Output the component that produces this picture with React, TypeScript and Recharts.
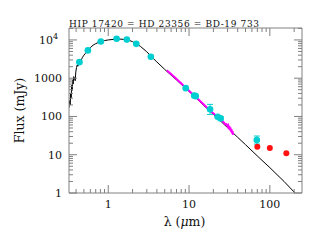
import React from 'react';
import { ComposedChart, Line, Scatter, XAxis, YAxis, ErrorBar, Label } from 'recharts';

// ---- data ----
const titleText = 'HIP 17420 = HD 23356 = BD-19 733';

const modelWavelength = [0.327, 0.333, 0.338, 0.343, 0.348, 0.353, 0.358, 0.363, 0.368, 0.374, 0.382, 0.39, 0.397, 0.405, 0.413, 0.42, 0.428, 0.436, 0.445, 0.46, 0.48, 0.5, 0.52, 0.55, 0.6, 0.65, 0.7, 0.8, 0.9, 1.0, 1.2, 1.4, 1.6, 1.8, 2.0, 2.2, 2.5, 3.0, 3.5, 4.0, 4.5, 5.0, 6.0, 7.0, 8.0, 9.0, 10, 12, 15, 20, 25, 30, 40, 50, 70, 100, 150, 205];
const modelFlux = [170, 260, 200, 400, 310, 650, 480, 900, 700, 1100, 1000, 860, 1450, 1900, 2200, 2050, 2150, 2300, 2500, 2900, 3500, 4000, 4400, 5000, 6300, 7300, 8000, 9000, 9600, 10000, 10400, 10500, 10300, 9800, 9000, 8000, 6800, 4900, 3500, 2650, 2100, 1700, 1200, 900, 690, 550, 450, 315, 200, 113, 73, 51, 28.5, 18.3, 9.3, 4.6, 2.0, 1.0];

const irsWavelength = [5.3, 5.6, 6.0, 6.5, 7.0, 7.5, 8.0, 8.5, 9.0, 9.5, 10, 11, 12, 13, 14, 15, 16, 17, 18, 19, 20, 21, 22, 23, 24, 25, 25.5, 26, 27, 28, 29, 30, 30.5, 31, 31.5, 32, 32.5, 33, 33.5, 34, 34.5, 35];
const irsFlux = [1600, 1460, 1290, 1100, 960, 830, 740, 650, 580, 520, 470, 385, 330, 280, 243, 212, 186, 165, 147, 132, 121, 111, 102, 94, 87, 80, 86, 74, 70, 62, 63, 55, 58, 47, 57, 44, 52, 40, 47, 36, 42, 33];

const photWavelength = [0.44, 0.56, 0.81, 1.27, 1.7, 2.22, 3.37, 9.1, 11.6, 12.1, 18.2, 22.6, 24.6, 69];
const photFlux = [2630, 5320, 9130, 10700, 10200, 7900, 3630, 550, 350, 340, 155, 98, 89, 24.2];
const photErrLow = [0, 0, 0, 0, 0, 0, 0, 0, 0, 0, 42, 0, 8, 5.2];
const photErrHigh = [0, 0, 0, 0, 0, 0, 0, 0, 0, 0, 52, 0, 9, 6.6];

const farIrWavelength = [70, 100, 160];
const farIrFlux = [16.2, 15, 10.9];

const xMajorTicks = [1, 10, 100];
const xMinorTicks = [0.4, 0.5, 0.6, 0.7, 0.8, 0.9, 2, 3, 4, 5, 6, 7, 8, 9, 20, 30, 40, 50, 60, 70, 80, 90, 200];
const yMajorTicks = [1, 10, 100, 1000, 10000];
const yMinorTicks = [2, 3, 4, 5, 6, 7, 8, 9, 20, 30, 40, 50, 60, 70, 80, 90, 200, 300, 400, 500, 600, 700, 800, 900, 2000, 3000, 4000, 5000, 6000, 7000, 8000, 9000, 20000];

const xDomain = [0.327, 250];
const yDomain = [1, 20500];

// ---- derived tables ----
const modelData = modelWavelength.map((x, i) => ({ x, y: modelFlux[i] }));
const irsData = irsWavelength.map((x, i) => ({ x, y: irsFlux[i] }));
const photData = photWavelength.map((x, i) => ({ x, y: photFlux[i], err: [photErrLow[i], photErrHigh[i]] }));
const farIrData = farIrWavelength.map((x, i) => ({ x, y: farIrFlux[i] }));
const xTicks = [...xMinorTicks, ...xMajorTicks].sort((a, b) => a - b);
const yTicks = [...yMinorTicks, ...yMajorTicks].sort((a, b) => a - b);

const GRAY = '#808080';
const TEXT = '#111';
const FONT = '"DejaVu Serif", "Liberation Serif", serif';
const CYAN = '#00ced1';
const RED = '#ff1010';
const MAGENTA = '#ff00ff';

const isMajor = (v: number) => xMajorTicks.includes(v) || yMajorTicks.includes(v);

function BottomTick(props: any) {
  const { x, y, payload } = props;
  const v = payload.value;
  const major = isMajor(v);
  return (
    <g>
      <line x1={x} x2={x} y1={y} y2={y - (major ? 8 : 4)} stroke={GRAY} />
      {major && (
        <text x={x} y={y + 14.5} textAnchor="middle" fontSize={11} fontFamily={FONT} fill={TEXT}>
          {String(v)}
        </text>
      )}
    </g>
  );
}

function TopTick(props: any) {
  const { x, y, payload } = props;
  const major = isMajor(payload.value);
  return <line x1={x} x2={x} y1={y} y2={y + (major ? 8 : 4)} stroke={GRAY} />;
}

function LeftTick(props: any) {
  const { x, y, payload } = props;
  const v = payload.value;
  const major = yMajorTicks.includes(v);
  let label: React.ReactNode = null;
  if (major) {
    if (v === 10000) {
      label = (
        <text x={x - 11} y={y + 4} textAnchor="end" fontSize={11} fontFamily={FONT} fill={TEXT}>
          10<tspan dy={-5} fontSize={8}>4</tspan>
        </text>
      );
    } else {
      label = (
        <text x={x - 7} y={y + 4} textAnchor="end" fontSize={11} fontFamily={FONT} fill={TEXT}>
          {String(v)}
        </text>
      );
    }
  }
  return (
    <g>
      <line x1={x} x2={x + (major ? 8 : 4)} y1={y} y2={y} stroke={GRAY} />
      {label}
    </g>
  );
}

function RightTick(props: any) {
  const { x, y, payload } = props;
  const major = yMajorTicks.includes(payload.value);
  return <line x1={x} x2={x - (major ? 8 : 4)} y1={y} y2={y} stroke={GRAY} />;
}

const CyanDot = (p: any) => <circle cx={p.cx} cy={p.cy} r={3.3} fill={CYAN} />;
const RedDot = (p: any) => <circle cx={p.cx} cy={p.cy} r={3} fill={RED} />;

function XLabel(props: any) {
  const vb = props.viewBox || { x: 69, y: 193, width: 233, height: 49 };
  return (
    <text x={vb.x + vb.width / 2 - 1} y={vb.y + 33} textAnchor="middle" fontSize={12.5} fontFamily={FONT} fill={TEXT}>
      λ  (<tspan fontStyle="italic">μ</tspan>m)
    </text>
  );
}

function YLabel(props: any) {
  const vb = props.viewBox || { x: 0, y: 28, width: 69, height: 165 };
  const cx = vb.x + 24;
  const cy = vb.y + vb.height / 2;
  return (
    <text x={cx} y={cy} textAnchor="middle" fontSize={12.5} fontFamily={FONT} fill={TEXT} transform={`rotate(-90 ${cx} ${cy})`}>
      Flux  (mJy)
    </text>
  );
}

export default function App() {
  return (
    <div style={{ position: 'absolute', left: 0, top: 0, width: 319, height: 242, background: '#fff' }}>
      <svg width={319} height={28} style={{ position: 'absolute', left: 0, top: 0 }}>
        <text x={69} y={26.5} fontSize={9} fontFamily={FONT} fill={TEXT} textLength={190} lengthAdjust="spacing">
          {titleText}
        </text>
      </svg>
      <ComposedChart width={319} height={242} margin={{ top: 0, right: 0, bottom: 0, left: 0 }}>
        <XAxis
          xAxisId={0}
          dataKey="x"
          type="number"
          scale="log"
          domain={xDomain}
          allowDataOverflow
          ticks={xTicks}
          interval={0}
          tick={<BottomTick />}
          tickLine={false}
          tickSize={0}
          tickMargin={0}
          axisLine={{ stroke: GRAY }}
          height={49}
          orientation="bottom"
        >
          <Label content={<XLabel />} />
        </XAxis>
        <XAxis
          xAxisId="top"
          dataKey="x"
          type="number"
          scale="log"
          domain={xDomain}
          allowDataOverflow
          ticks={xTicks}
          interval={0}
          tick={<TopTick />}
          tickLine={false}
          tickSize={0}
          tickMargin={0}
          axisLine={{ stroke: GRAY }}
          height={28}
          orientation="top"
        />
        <YAxis
          yAxisId={0}
          dataKey="y"
          type="number"
          scale="log"
          domain={yDomain}
          allowDataOverflow
          ticks={yTicks}
          interval={0}
          tick={<LeftTick />}
          tickLine={false}
          tickSize={0}
          tickMargin={0}
          axisLine={{ stroke: GRAY }}
          width={69}
          orientation="left"
        >
          <Label content={<YLabel />} />
        </YAxis>
        <YAxis
          yAxisId="right"
          dataKey="y"
          type="number"
          scale="log"
          domain={yDomain}
          allowDataOverflow
          ticks={yTicks}
          interval={0}
          tick={<RightTick />}
          tickLine={false}
          tickSize={0}
          tickMargin={0}
          axisLine={{ stroke: GRAY }}
          width={17}
          orientation="right"
        />
        <Line
          data={modelData}
          dataKey="y"
          type="linear"
          stroke="#000"
          strokeWidth={1}
          dot={false}
          activeDot={false}
          isAnimationActive={false}
        />
        <Line
          data={irsData}
          dataKey="y"
          type="linear"
          stroke={MAGENTA}
          strokeWidth={2}
          dot={false}
          activeDot={false}
          isAnimationActive={false}
        />
        <Scatter data={photData} dataKey="y" shape={<CyanDot />} isAnimationActive={false}>
          <ErrorBar dataKey="err" direction="y" width={3} stroke={CYAN} strokeWidth={1} />
        </Scatter>
        <Scatter data={farIrData} dataKey="y" shape={<RedDot />} isAnimationActive={false} />
      </ComposedChart>
    </div>
  );
}
